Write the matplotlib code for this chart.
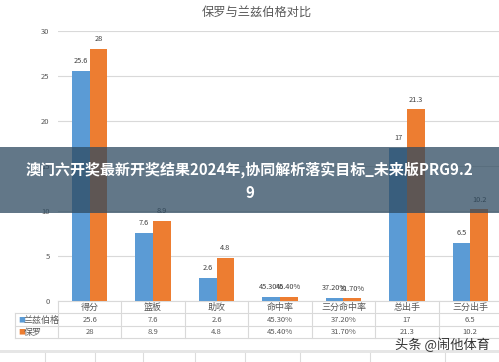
# -*- coding: utf-8 -*-
import matplotlib
matplotlib.use('Agg')
import matplotlib.pyplot as plt
import numpy as np
from matplotlib.patches import Rectangle

plt.rcParams['font.family'] = ['Noto Sans CJK SC', 'DejaVu Sans']

categories = ['得分', '篮板', '助攻', '命中率', '三分命中率', '总出手', '三分出手']
lanz_vals = [25.6, 7.6, 2.6, 0.453, 0.372, 17, 6.5]
paul_vals = [28, 8.9, 4.8, 0.454, 0.317, 21.3, 10.2]
lanz_labels = ['25.6', '7.6', '2.6', '45.30%', '37.20%', '17', '6.5']
paul_labels = ['28', '8.9', '4.8', '45.40%', '31.70%', '21.3', '10.2']
series_names = ['兰兹伯格', '保罗']

W, H = 499, 362
BLUE = '#5b9bd5'
ORANGE = '#ed7d31'
GRID = '#d9d9d9'
TXT = '#595959'

fig = plt.figure(figsize=(W / 100, H / 100), dpi=100)
fig.patch.set_facecolor('white')

# plot area in pixels: x 58..502, y 31..301
ax = fig.add_axes([58 / W, 1 - 301 / H, (502 - 58) / W, 270 / H])
x = np.arange(len(categories))
bw = 0.28
b1 = ax.bar(x - bw / 2, lanz_vals, bw, color=BLUE, zorder=3)
b2 = ax.bar(x + bw / 2, paul_vals, bw, color=ORANGE, zorder=3)
for rect, lab in zip(b1, lanz_labels):
    ax.annotate(lab, (rect.get_x() + rect.get_width() / 2, rect.get_height()),
                xytext=(0, 4), textcoords='offset points', ha='center', va='bottom',
                fontsize=5.3, color='#404040')
for rect, lab in zip(b2, paul_labels):
    ax.annotate(lab, (rect.get_x() + rect.get_width() / 2, rect.get_height()),
                xytext=(0, 4), textcoords='offset points', ha='center', va='bottom',
                fontsize=5.3, color='#404040')

ax.set_xlim(-0.5, 6.5)
ax.set_ylim(0, 30)
ax.set_yticks(range(0, 31, 5))
ax.tick_params(axis='y', length=0, labelsize=5.5, labelcolor=TXT, pad=6)
ax.set_xticks([])
ax.grid(axis='y', color=GRID, linewidth=0.8, zorder=0)
for s in ['top', 'right', 'left']:
    ax.spines[s].set_visible(False)
ax.spines['bottom'].set_color(GRID)

# data table under the axis
tr = ax.get_xaxis_transform()
def ypx(p):
    return (301 - p) / 270.0

left_col = -0.5 - 43 / 63.4
for k in range(len(categories) + 1):
    ax.plot([k - 0.5, k - 0.5], [ypx(301), ypx(338)], transform=tr, color=GRID,
            lw=0.8, clip_on=False)
ax.plot([left_col, left_col], [ypx(313), ypx(338)], transform=tr, color=GRID,
        lw=0.8, clip_on=False)
for p in [313, 326, 338]:
    ax.plot([left_col, 6.5], [ypx(p), ypx(p)], transform=tr, color=GRID,
            lw=0.8, clip_on=False)

for i, c in enumerate(categories):
    ax.text(i, ypx(307.5), c, transform=tr, ha='center', va='center', fontsize=6.5,
            color=TXT, clip_on=False)
    ax.text(i, ypx(320), lanz_labels[i], transform=tr, ha='center', va='center',
            fontsize=5.5, color=TXT, clip_on=False)
    ax.text(i, ypx(332), paul_labels[i], transform=tr, ha='center', va='center',
            fontsize=5.5, color=TXT, clip_on=False)

for row, name, col in [(320, series_names[0], BLUE), (332, series_names[1], ORANGE)]:
    ax.text(left_col + 0.05, ypx(row), '■', transform=tr, ha='left', va='center',
            fontsize=5, color=col, clip_on=False)
    ax.text(left_col + 0.14, ypx(row), name, transform=tr, ha='left', va='center',
            fontsize=6.5, color=TXT, clip_on=False)

# title
fig.text(257 / W, 1 - 12 / H, '保罗与兰兹伯格对比', ha='center', va='center',
         fontsize=8.8, color=TXT)

# spreadsheet grid fragment at the bottom
fig.add_artist(Rectangle((0, 1 - 353 / H), 1, 3 / H, transform=fig.transFigure,
                         color='#e6e6e6', lw=0))
for px in [45, 95, 143, 195, 245, 300, 370, 445]:
    fig.add_artist(plt.Line2D([px / W, px / W], [0, 1 - 353 / H],
                              transform=fig.transFigure, color='#dcdcdc', lw=0.8))

# banner overlay
fig.add_artist(Rectangle((0, 1 - 213 / H), 1, 66 / H, transform=fig.transFigure,
                         facecolor='#2e4a60', alpha=0.75, lw=0, zorder=10))
fig.text(0.5, 1 - 170 / H, '澳门六开奖最新开奖结果2024年,协同解析落实目标_未来版PRG9.2',
         ha='center', va='center', fontsize=10.8, fontweight='bold', color='white',
         zorder=11)
fig.text(0.5, 1 - 193 / H, '9', ha='center', va='center', fontsize=10.8,
         fontweight='bold', color='white', zorder=11)

# watermark
fig.text(490 / W, 1 - 345 / H, '头条 @闹他体育', ha='right', va='center',
         fontsize=9.5, color='#333333', zorder=11)

fig.savefig('out.png', dpi=100)
